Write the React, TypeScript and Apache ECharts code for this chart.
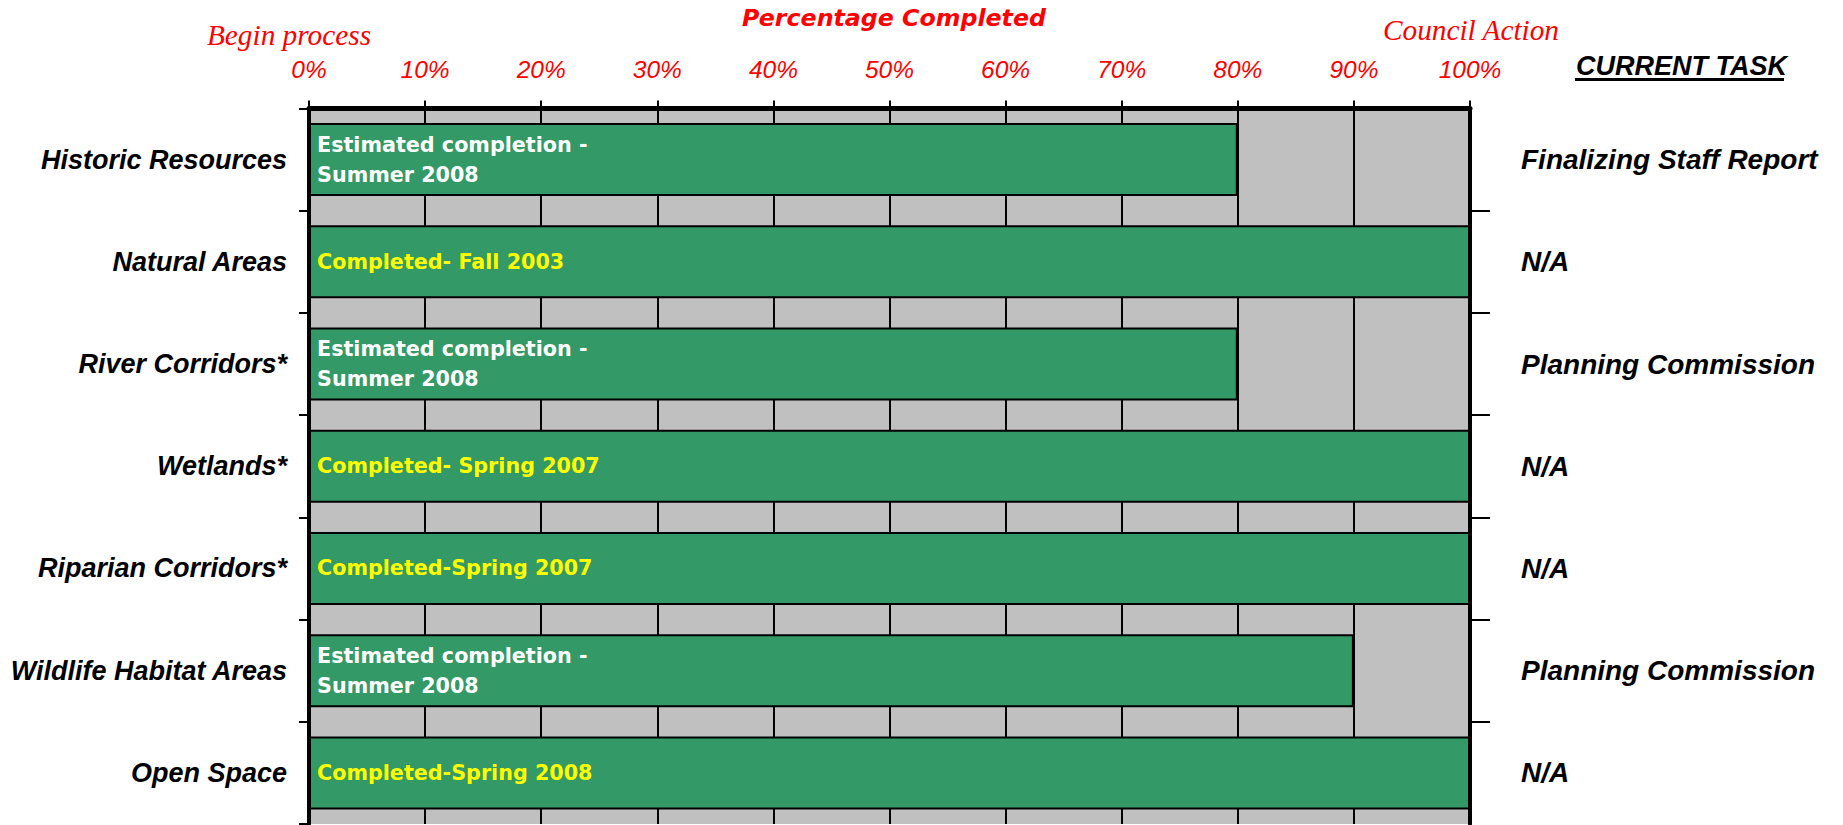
import React, { useEffect, useRef } from "react";
import * as echarts from "echarts";

const categories = [
  "Historic Resources",
  "Natural Areas",
  "River Corridors*",
  "Wetlands*",
  "Riparian Corridors*",
  "Wildlife Habitat Areas",
  "Open Space",
];
const progress = [80, 100, 80, 100, 100, 90, 100];
const barTexts = [
  "Estimated completion -\nSummer 2008",
  "Completed- Fall 2003",
  "Estimated completion -\nSummer 2008",
  "Completed- Spring 2007",
  "Completed-Spring 2007",
  "Estimated completion -\nSummer 2008",
  "Completed-Spring 2008",
];
const currentTasks = [
  "Finalizing Staff Report",
  "N/A",
  "Planning Commission",
  "N/A",
  "N/A",
  "Planning Commission",
  "N/A",
];
const bandBoundaries = [1, 2, 3, 4, 5, 6];

export default function App() {
  const ref = useRef<HTMLDivElement>(null);
  useEffect(() => {
    document.body.style.margin = "0";
    const chart = echarts.init(ref.current!, null, { renderer: "svg" });
    const arial = "'Liberation Sans', Arial, sans-serif";
    const option: any = {
      animation: false,
      grid: {
        left: 309,
        right: 373,
        top: 108.5,
        height: 715.5,
        show: true,
        backgroundColor: "#C0C0C0",
        borderWidth: 0,
      },
      xAxis: {
        type: "value",
        position: "top",
        min: 0,
        max: 100,
        interval: 10,
        axisLine: { show: true, lineStyle: { color: "#000", width: 5 } },
        axisTick: { show: true, length: 8, lineStyle: { color: "#000", width: 2 } },
        axisLabel: {
          formatter: "{value}%",
          color: "#FF0000",
          fontStyle: "italic",
          fontSize: 24.5,
          fontFamily: arial,
          margin: 27,
        },
        splitLine: { show: true, lineStyle: { color: "#000", width: 2 } },
      },
      yAxis: [
        {
          type: "category",
          data: categories,
          inverse: true,
          position: "left",
          axisLine: { show: true, lineStyle: { color: "#000", width: 4 } },
          axisTick: { show: true, length: 10, lineStyle: { color: "#000", width: 2 } },
          axisLabel: {
            color: "#000",
            fontStyle: "italic",
            fontWeight: "bold",
            fontSize: 27,
            fontFamily: arial,
            margin: 22,
          },
          splitLine: { show: false },
        },
        {
          type: "category",
          data: currentTasks,
          inverse: true,
          position: "right",
          axisLine: { show: false },
          axisTick: { show: false },
          axisLabel: {
            color: "#000",
            fontStyle: "italic",
            fontWeight: "bold",
            fontSize: 28,
            fontFamily: arial,
            margin: 51,
            align: "left",
          },
          splitLine: { show: false },
        },
        {
          type: "value",
          min: 0,
          max: 7,
          inverse: true,
          position: "right",
          axisLine: { show: true, lineStyle: { color: "#000", width: 4 } },
          axisTick: {
            show: true,
            length: 20,
            customValues: bandBoundaries,
            lineStyle: { color: "#000", width: 2 },
          },
          axisLabel: { show: false },
          splitLine: { show: false },
        },
      ],
      series: [
        {
          type: "bar",
          xAxisIndex: 0,
          yAxisIndex: 0,
          barCategoryGap: "28.6%",
          data: progress.map((v, i) => ({
            value: v,
            label: {
              color: barTexts[i].startsWith("Completed") ? "#FFFF00" : "#FFFFFF",
            },
          })),
          itemStyle: { color: "#339966", borderColor: "#000", borderWidth: 2 },
          label: {
            show: true,
            position: "insideLeft",
            distance: 8,
            formatter: (p: any) => barTexts[p.dataIndex],
            fontFamily: "'DejaVu Sans', Verdana, sans-serif",
            fontWeight: "bold",
            fontSize: 20.7,
            lineHeight: 30,
            align: "left",
          },
        },
      ],
      graphic: [
        {
          type: "text",
          x: 894,
          y: 18,
          style: {
            text: "Percentage Completed",
            fill: "#FF0000",
            fontFamily: "'DejaVu Sans', Verdana, sans-serif",
            fontWeight: "bold",
            fontStyle: "italic",
            fontSize: 23.7,
            align: "center",
            verticalAlign: "middle",
          },
        },
        {
          type: "text",
          x: 289,
          y: 35,
          style: {
            text: "Begin process",
            fill: "#FF0000",
            fontFamily: "'Liberation Serif', 'Times New Roman', serif",
            fontStyle: "italic",
            fontSize: 29.3,
            align: "center",
            verticalAlign: "middle",
          },
        },
        {
          type: "text",
          x: 1471,
          y: 29.5,
          style: {
            text: "Council Action",
            fill: "#FF0000",
            fontFamily: "'Liberation Serif', 'Times New Roman', serif",
            fontStyle: "italic",
            fontSize: 29.3,
            align: "center",
            verticalAlign: "middle",
          },
        },
        {
          type: "text",
          x: 1576,
          y: 66.3,
          style: {
            text: "CURRENT TASK",
            fill: "#000",
            fontFamily: arial,
            fontStyle: "italic",
            fontWeight: "bold",
            fontSize: 27,
            align: "left",
            verticalAlign: "middle",
          },
        },
        {
          type: "line",
          shape: { x1: 1575, y1: 79.5, x2: 1784, y2: 79.5 },
          style: { stroke: "#000", lineWidth: 3 },
        },
      ],
    };
    chart.setOption(option);
    return () => chart.dispose();
  }, []);
  return <div ref={ref} style={{ width: 1843, height: 825 }} />;
}
